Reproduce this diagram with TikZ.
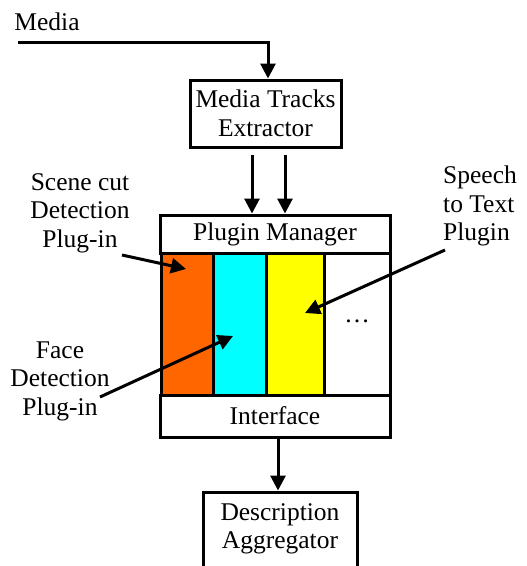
\documentclass[tikz,border=0pt]{standalone}
\usepackage{fontspec}
\setmainfont{Liberation Serif}
\usetikzlibrary{arrows.meta}
\definecolor{plugorange}{RGB}{255,102,0}
\definecolor{plugcyan}{RGB}{0,255,255}
\definecolor{plugyellow}{RGB}{255,255,0}
\begin{document}
\begin{tikzpicture}[x=1pt,y=-1pt,
  every node/.style={font=\fontsize{25.5}{28.5}\selectfont},
  box/.style={draw, line width=3pt, rectangle, inner sep=0pt},
  lbl/.style={align=center, inner sep=0pt},
  arr/.style={line width=3pt, -{Triangle[width=15pt,length=15pt]}}]
\useasboundingbox (0,0) rectangle (527,566);
\clip (0,0) rectangle (527,566);

% blocks
\node[box, minimum width=151pt, minimum height=67pt, align=center] (ext) at (265.5,113.5) {Media Tracks\\Extractor};
\node[box, minimum width=230pt, minimum height=38pt] (mgr) at (275,234) {Plugin Manager};
\node[box, fill=plugorange, minimum width=52pt, minimum height=142pt] (scene) at (187,324) {};
\node[box, fill=plugcyan, minimum width=53pt, minimum height=142pt] (face) at (239.5,324) {};
\node[box, fill=plugyellow, minimum width=58pt, minimum height=142pt] (speech) at (295,324) {};
\node[box, minimum width=66pt, minimum height=142pt] (more) at (357,324) {\raisebox{0.4ex}{\dots}};
\node[box, minimum width=230pt, minimum height=42pt] (iface) at (275,416) {Interface};
\node[box, minimum width=154pt, minimum height=78pt] (agg) at (280,531) {};
\node[lbl] (aggtext) at (280,529) {Description\\Aggregator};

% labels
\node[lbl] (media) at (47,22) {Media};
\node[lbl] (lscene) at (80,213) {Scene cut\\Detection\\Plug-in};
\node[lbl] (lface) at (60,381) {Face\\Detection\\Plug-in};
\node[lbl, align=left, anchor=west] (lspeech) at (443,206) {Speech\\to Text\\Plugin};

% connectors
\coordinate (min) at (18,42);
\coordinate (mturn) at (268,42);
\draw[arr] (min) -- (mturn) -- (mturn |- ext.north);

\coordinate (t1) at (252,155);
\coordinate (t2) at (285,155);
\draw[arr] (t1) -- (t1 |- mgr.north);
\draw[arr] (t2) -- (t2 |- mgr.north);

\coordinate (iout) at (278,437);
\draw[arr] (iout) -- (iout |- agg.north);

\coordinate (ps) at (122,255);
\coordinate (pst) at (186,269);
\draw[arr] (ps) -- (pst);
\coordinate (pf) at (100,397);
\coordinate (pft) at (233,336);
\draw[arr] (pf) -- (pft);
\coordinate (pp) at (445,250);
\coordinate (ppt) at (305,313);
\draw[arr] (pp) -- (ppt);
\end{tikzpicture}
\end{document}
